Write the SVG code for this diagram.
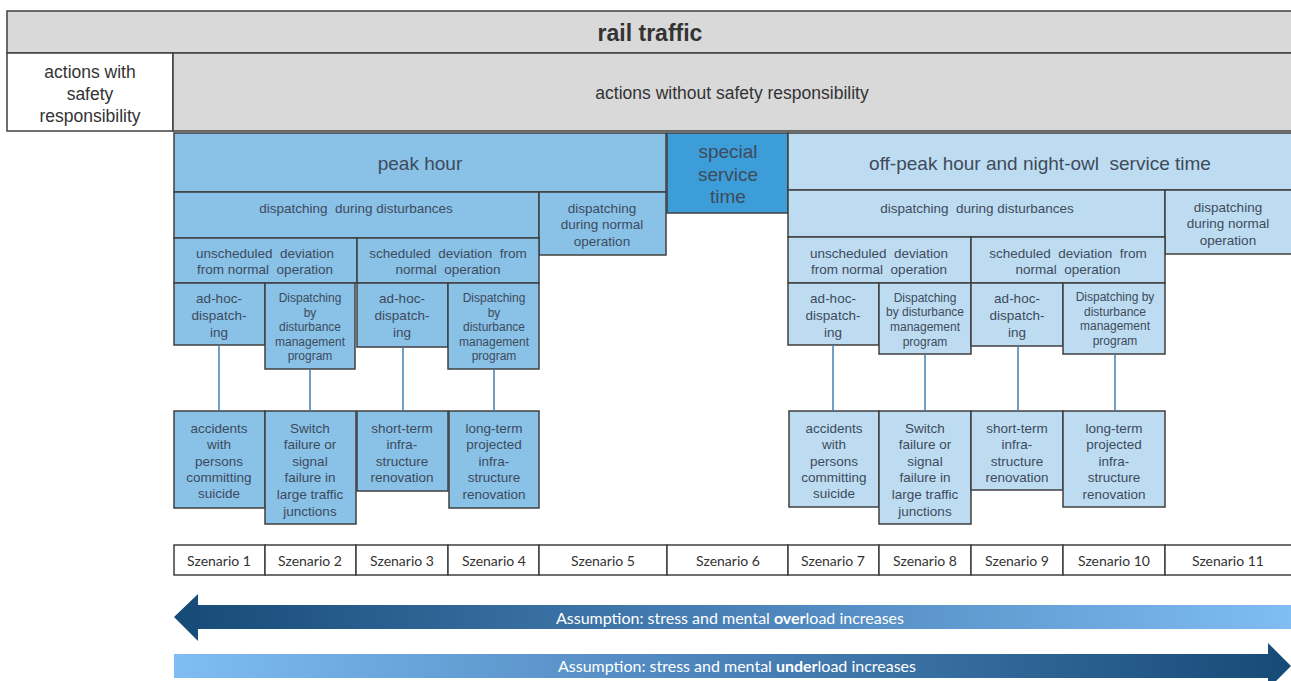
<svg xmlns="http://www.w3.org/2000/svg" width="1291" height="681" viewBox="0 0 1291 681">
<defs>
<style>
.b{stroke:#3f3f3f;stroke-width:1.5}
.g{fill:#d9d9d9}
.w{fill:#ffffff}
.m{fill:#89c1e7}
.l{fill:#bddcf1}
.s{fill:#3d9dd8}
text{font-family:"Liberation Sans",Arial,sans-serif;fill:#3d4b5c;text-anchor:middle;dominant-baseline:central}
.t12{font-size:13.5px}
.t11{font-size:12px}
.t15{font-size:17.5px;fill:#333}
.t18{font-size:19px}
.sc{font-family:Lato,"Open Sans",sans-serif;font-size:14px;fill:#333}
.ar{font-family:Lato,"Open Sans",sans-serif;font-size:15px;fill:#ffffff}
.cn{stroke:#3f7fb0;stroke-width:1.5;fill:none}
</style>
<linearGradient id="gOver" x1="174" y1="0" x2="1291" y2="0" gradientUnits="userSpaceOnUse">
<stop offset="0" stop-color="#164a76"/>
<stop offset="0.5" stop-color="#4a82b8"/>
<stop offset="1" stop-color="#7fbdf2"/>
</linearGradient>
<linearGradient id="gUnder" x1="174" y1="0" x2="1291" y2="0" gradientUnits="userSpaceOnUse">
<stop offset="0" stop-color="#7fbdf2"/>
<stop offset="0.5" stop-color="#4a82b8"/>
<stop offset="1" stop-color="#164a76"/>
</linearGradient>
</defs>

<g id="rail-traffic"><rect class="g b" x="7" y="11" width="1290" height="42"/><text x="650" y="33" style="font-size:23px;font-weight:bold;fill:#333">rail traffic</text></g>
<g id="with-safety"><rect class="w b" x="7" y="53" width="166" height="78"/><text class="t15" x="90" y="72">actions with</text><text class="t15" x="90" y="94">safety</text><text class="t15" x="90" y="116">responsibility</text></g>
<g id="without-safety"><rect class="g b" x="173" y="53" width="1124" height="78"/><text class="t15" x="732" y="93">actions without safety responsibility</text></g>

<g id="peak-hour"><rect class="m b" x="174" y="133" width="492" height="59"/><text class="t18" x="420" y="163">peak hour</text></g>
<g id="special-service"><rect class="s b" x="667" y="133" width="121" height="80"/><text class="t18" x="728" y="151">special</text><text class="t18" x="728" y="174">service</text><text class="t18" x="728" y="196">time</text></g>
<g id="off-peak"><rect class="l b" x="788" y="133" width="509" height="57"/><text class="t18" x="1040" y="163">off-peak hour and night-owl&#160; service time</text></g>

<g id="l-disturb"><rect class="m b" x="174" y="192" width="365" height="46"/><text class="t12" x="356" y="208">dispatching&#160; during disturbances</text></g>
<g id="l-normal"><rect class="m b" x="539" y="192" width="127" height="63"/><text class="t12" x="602" y="208">dispatching</text><text class="t12" x="602" y="224">during normal</text><text class="t12" x="602" y="241">operation</text></g>
<g id="l-unsched"><rect class="m b" x="174" y="238" width="183" height="45"/><text class="t12" x="265" y="253">unscheduled&#160; deviation</text><text class="t12" x="265" y="269">from normal&#160; operation</text></g>
<g id="l-sched"><rect class="m b" x="357" y="238" width="182" height="45"/><text class="t12" x="448" y="253">scheduled&#160; deviation&#160; from</text><text class="t12" x="448" y="269">normal&#160; operation</text></g>
<g id="l-adhoc1"><rect class="m b" x="174" y="283" width="91" height="62"/><text class="t12" x="219" y="298">ad-hoc-</text><text class="t12" x="219" y="315">dispatch-</text><text class="t12" x="219" y="332">ing</text></g>
<g id="l-dmp1"><rect class="m b" x="265" y="283" width="90" height="86"/><text class="t11" x="310" y="298">Dispatching</text><text class="t11" x="310" y="313">by</text><text class="t11" x="310" y="327">disturbance</text><text class="t11" x="310" y="342">management</text><text class="t11" x="310" y="356">program</text></g>
<g id="l-adhoc2"><rect class="m b" x="357" y="283" width="91" height="64"/><text class="t12" x="402" y="298">ad-hoc-</text><text class="t12" x="402" y="315">dispatch-</text><text class="t12" x="402" y="332">ing</text></g>
<g id="l-dmp2"><rect class="m b" x="448" y="283" width="91" height="86"/><text class="t11" x="494" y="298">Dispatching</text><text class="t11" x="494" y="313">by</text><text class="t11" x="494" y="327">disturbance</text><text class="t11" x="494" y="342">management</text><text class="t11" x="494" y="356">program</text></g>

<g id="l-accidents"><rect class="m b" x="174" y="411" width="91" height="97"/><text class="t12" x="219" y="428">accidents</text><text class="t12" x="219" y="444">with</text><text class="t12" x="219" y="461">persons</text><text class="t12" x="219" y="477">committing</text><text class="t12" x="219" y="493">suicide</text></g>
<g id="l-switch"><rect class="m b" x="265" y="411" width="91" height="113"/><text class="t12" x="310" y="428">Switch</text><text class="t12" x="310" y="444">failure or</text><text class="t12" x="310" y="461">signal</text><text class="t12" x="310" y="477">failure in</text><text class="t12" x="310" y="494">large traffic</text><text class="t12" x="310" y="511">junctions</text></g>
<g id="l-short"><rect class="m b" x="357" y="411" width="91" height="80"/><text class="t12" x="402" y="428">short-term</text><text class="t12" x="402" y="444">infra-</text><text class="t12" x="402" y="461">structure</text><text class="t12" x="402" y="477">renovation</text></g>
<g id="l-long"><rect class="m b" x="449" y="411" width="90" height="97"/><text class="t12" x="494" y="428">long-term</text><text class="t12" x="494" y="444">projected</text><text class="t12" x="494" y="461">infra-</text><text class="t12" x="494" y="477">structure</text><text class="t12" x="494" y="494">renovation</text></g>

<g id="r-disturb"><rect class="l b" x="788" y="190" width="377" height="47"/><text class="t12" x="977" y="208">dispatching&#160; during disturbances</text></g>
<g id="r-normal"><rect class="l b" x="1165" y="190" width="132" height="64"/><text class="t12" x="1228" y="207">dispatching</text><text class="t12" x="1228" y="223">during normal</text><text class="t12" x="1228" y="240">operation</text></g>
<g id="r-unsched"><rect class="l b" x="788" y="237" width="183" height="46"/><text class="t12" x="879" y="253">unscheduled&#160; deviation</text><text class="t12" x="879" y="269">from normal&#160; operation</text></g>
<g id="r-sched"><rect class="l b" x="971" y="237" width="194" height="46"/><text class="t12" x="1068" y="253">scheduled&#160; deviation&#160; from</text><text class="t12" x="1068" y="269">normal&#160; operation</text></g>
<g id="r-adhoc1"><rect class="l b" x="788" y="283" width="91" height="62"/><text class="t12" x="833" y="298">ad-hoc-</text><text class="t12" x="833" y="315">dispatch-</text><text class="t12" x="833" y="332">ing</text></g>
<g id="r-dmp1"><rect class="l b" x="879" y="283" width="92" height="71"/><text class="t11" x="925" y="298">Dispatching</text><text class="t11" x="925" y="312">by disturbance</text><text class="t11" x="925" y="327">management</text><text class="t11" x="925" y="342">program</text></g>
<g id="r-adhoc2"><rect class="l b" x="971" y="283" width="92" height="63"/><text class="t12" x="1017" y="298">ad-hoc-</text><text class="t12" x="1017" y="315">dispatch-</text><text class="t12" x="1017" y="332">ing</text></g>
<g id="r-dmp2"><rect class="l b" x="1063" y="283" width="102" height="71"/><text class="t11" x="1115" y="297">Dispatching by</text><text class="t11" x="1115" y="312">disturbance</text><text class="t11" x="1115" y="326">management</text><text class="t11" x="1115" y="341">program</text></g>

<g id="r-accidents"><rect class="l b" x="789" y="411" width="90" height="96"/><text class="t12" x="834" y="428">accidents</text><text class="t12" x="834" y="444">with</text><text class="t12" x="834" y="461">persons</text><text class="t12" x="834" y="477">committing</text><text class="t12" x="834" y="493">suicide</text></g>
<g id="r-switch"><rect class="l b" x="879" y="411" width="92" height="113"/><text class="t12" x="925" y="428">Switch</text><text class="t12" x="925" y="444">failure or</text><text class="t12" x="925" y="461">signal</text><text class="t12" x="925" y="477">failure in</text><text class="t12" x="925" y="494">large traffic</text><text class="t12" x="925" y="511">junctions</text></g>
<g id="r-short"><rect class="l b" x="971" y="411" width="92" height="79"/><text class="t12" x="1017" y="428">short-term</text><text class="t12" x="1017" y="444">infra-</text><text class="t12" x="1017" y="461">structure</text><text class="t12" x="1017" y="477">renovation</text></g>
<g id="r-long"><rect class="l b" x="1063" y="411" width="102" height="96"/><text class="t12" x="1114" y="428">long-term</text><text class="t12" x="1114" y="444">projected</text><text class="t12" x="1114" y="461">infra-</text><text class="t12" x="1114" y="477">structure</text><text class="t12" x="1114" y="494">renovation</text></g>

<g id="connectors">
<line class="cn" x1="219" y1="345" x2="219" y2="411"/>
<line class="cn" x1="310" y1="369" x2="310" y2="411"/>
<line class="cn" x1="403" y1="347" x2="403" y2="411"/>
<line class="cn" x1="494" y1="369" x2="494" y2="411"/>
<line class="cn" x1="833" y1="345" x2="833" y2="411"/>
<line class="cn" x1="925" y1="354" x2="925" y2="411"/>
<line class="cn" x1="1018" y1="346" x2="1018" y2="411"/>
<line class="cn" x1="1115" y1="354" x2="1115" y2="411"/>
</g>

<g id="scenarios">
<rect class="w b" x="174" y="545" width="91" height="30"/><text class="sc" x="219" y="560">Szenario 1</text>
<rect class="w b" x="265" y="545" width="91" height="30"/><text class="sc" x="310" y="560">Szenario 2</text>
<rect class="w b" x="356" y="545" width="92" height="30"/><text class="sc" x="402" y="560">Szenario 3</text>
<rect class="w b" x="448" y="545" width="91" height="30"/><text class="sc" x="494" y="560">Szenario 4</text>
<rect class="w b" x="539" y="545" width="128" height="30"/><text class="sc" x="603" y="560">Szenario 5</text>
<rect class="w b" x="667" y="545" width="121" height="30"/><text class="sc" x="728" y="560">Szenario 6</text>
<rect class="w b" x="788" y="545" width="91" height="30"/><text class="sc" x="833" y="560">Szenario 7</text>
<rect class="w b" x="879" y="545" width="92" height="30"/><text class="sc" x="925" y="560">Szenario 8</text>
<rect class="w b" x="971" y="545" width="92" height="30"/><text class="sc" x="1017" y="560">Szenario 9</text>
<rect class="w b" x="1063" y="545" width="102" height="30"/><text class="sc" x="1114" y="560">Szenario 10</text>
<rect class="w b" x="1165" y="545" width="132" height="30"/><text class="sc" x="1228" y="560">Szenario 11</text>
</g>

<g id="arrow-overload">
<polygon points="174,617 198,594 198,605 1291,605 1291,629 198,629 198,641" fill="url(#gOver)"/>
<text class="ar" x="730" y="618" textLength="348" lengthAdjust="spacingAndGlyphs">Assumption: stress and mental <tspan font-weight="bold">over</tspan>load increases</text>
</g>
<g id="arrow-underload">
<polygon points="174,654 1268,654 1268,643 1291,666 1268,689 1268,678 174,678" fill="url(#gUnder)"/>
<text class="ar" x="737" y="666" textLength="358" lengthAdjust="spacingAndGlyphs">Assumption: stress and mental <tspan font-weight="bold">under</tspan>load increases</text>
</g>
</svg>
